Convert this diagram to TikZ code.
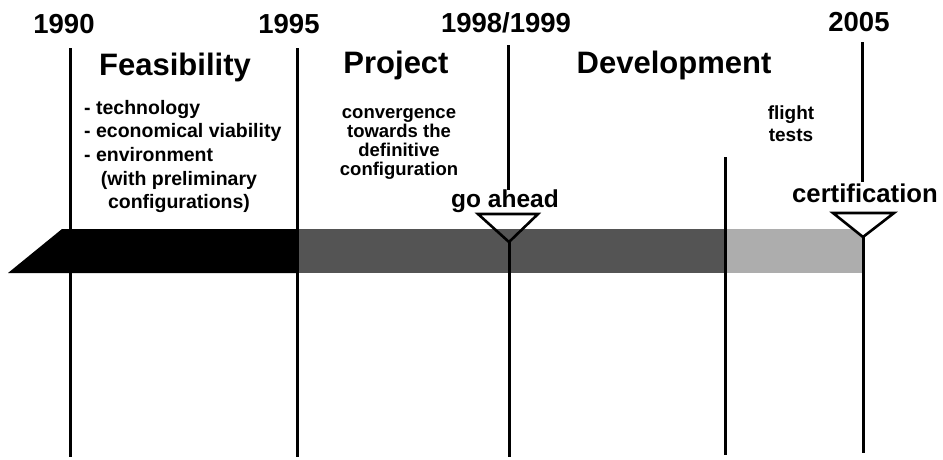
\documentclass[tikz,border=0pt]{standalone}
\usepackage{fontspec}
\setmainfont{Liberation Sans}
\begin{document}
\begin{tikzpicture}[x=1pt,y=-1pt,
  vline/.style={line width=3pt},
  tri/.style={line width=2.6pt, line join=miter},
  year/.style={anchor=base, font=\bfseries\fontsize{27.5}{30}\selectfont, inner sep=0pt},
  phase/.style={anchor=base, font=\bfseries\fontsize{31}{34}\selectfont, inner sep=0pt},
  small/.style={font=\bfseries\fontsize{19.5}{23.5}\selectfont, inner sep=0pt, align=center},
  event/.style={anchor=base, font=\bfseries\fontsize{24.5}{28}\selectfont, inner sep=0pt}]
\useasboundingbox (0,0) rectangle (943,459);
\definecolor{darkbar}{gray}{0.33}
\definecolor{lightbar}{gray}{0.68}
% bar
\fill[black] (8,273) -- (62,229) -- (298,229) -- (298,273) -- cycle;
\fill[darkbar] (298,229) rectangle (725,273);
\fill[lightbar] (725,229) rectangle (862,273);
% coordinates
\coordinate (a1) at (70,48);   \coordinate (a2) at (70,457);
\coordinate (b1) at (297,48);  \coordinate (b2) at (297,457);
\coordinate (c1) at (508,45);  \coordinate (c2) at (508,190);
\coordinate (c3) at (509,242); \coordinate (c4) at (509,457);
\coordinate (d1) at (725,157); \coordinate (d2) at (725,455);
\coordinate (e1) at (862,42);  \coordinate (e2) at (862,182);
\coordinate (e3) at (863,237); \coordinate (e4) at (863,453);
\draw[vline] (a1) -- (a2);
\draw[vline] (b1) -- (b2);
\draw[vline] (c1) -- (c2);
\draw[vline] (c3) -- (c4);
\draw[vline] (d1) -- (d2);
\draw[vline] (e1) -- (e2);
\draw[vline] (e3) -- (e4);
% triangles
\draw[tri] (478,214) -- (538,214) -- (c3) -- cycle;
\draw[tri, fill=white] (833,213) -- (894,213) -- (e3) -- cycle;
% years
\node[year] (y1990) at (64,33) {1990};
\node[year] (y1995) at (289,33) {1995};
\node[year] (y1998) at (506,32) {1998/1999};
\node[year] (y2005) at (859,31) {2005};
% phases
\node[phase] (feas) at (175,75) {Feasibility};
\node[phase] (proj) at (396,73) {Project};
\node[phase] (dev) at (674,73) {Development};
% small texts
\node[small, anchor=north west, align=left] (feaslist) at (84,100) {- technology\\- economical viability\\- environment};
\node[small, anchor=north] (prelim) at (179,171) {(with preliminary\\configurations)};
\node[small, anchor=north, font=\bfseries\fontsize{18.5}{19.2}\selectfont] (conv) at (399,108) {convergence\\towards the\\definitive\\configuration};
\node[small, anchor=north, font=\bfseries\fontsize{19}{21.5}\selectfont] (flight) at (791,106) {flight\\tests};
% events
\node[event] (goahead) at (505,207) {go ahead};
\node[event, font=\bfseries\fontsize{25.7}{28}\selectfont] (cert) at (865,202) {certification};
\end{tikzpicture}
\end{document}
